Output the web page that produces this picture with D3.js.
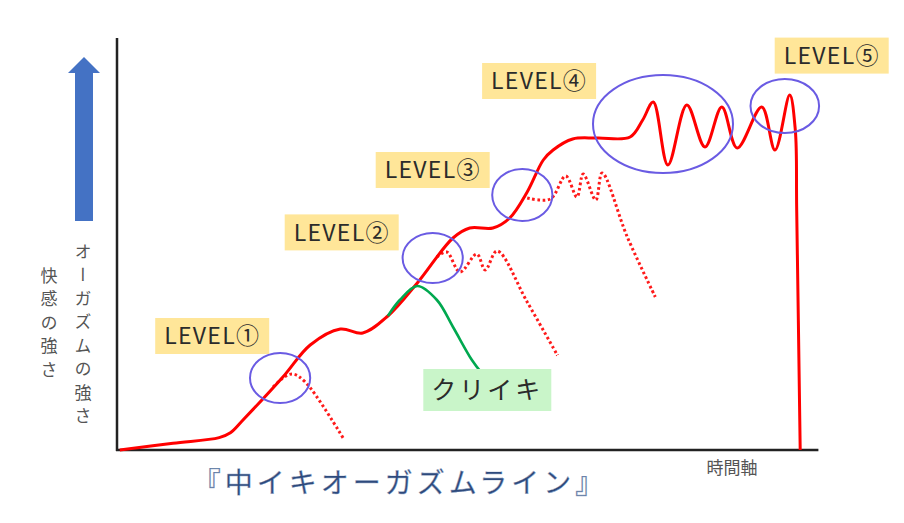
<!DOCTYPE html>
<html>
<head>
<meta charset="utf-8">
<script src="https://cdn.jsdelivr.net/npm/d3@7"></script>
<style>
  body { margin: 0; background: #fff; }
  svg { display: block; }
</style>
</head>
<body>
<div id="chart"></div>
<script>
// time axis 0..100, intensity axis 0..100

var mainT = [0.4, 8, 14.6, 16.2, 18, 23.7, 27.6, 31.9, 35.1, 38.7, 42.9, 48, 50.4, 53.7, 56.1, 58.6, 60.9, 62.3, 65.1, 68.6, 73.3, 75.1, 76.6, 78.7, 81.4, 84, 86.4, 88.6, 92.1, 94, 96.1, 96.9, 97.1, 97.6];
var mainV = [0, 1.7, 3.1, 4.3, 7.5, 18.25, 26.25, 30.25, 29.25, 33.5, 41.75, 53, 55.5, 55.5, 58, 64.5, 72.5, 75, 77.75, 78, 78.25, 82.5, 87, 71.25, 86.25, 75.75, 85.75, 75.5, 85.75, 75, 88.75, 80, 60, 0];

// dotted "could have gone" branches
var branch1T = [22.3, 23.7, 25.1, 26.9, 32.3];
var branch1V = [15.75, 18, 19, 17, 3];
var branch2T = [45.7, 47.1, 49, 51.4, 52.6, 54.3, 58.6, 62.9];
var branch2V = [48.25, 49.5, 44.5, 49, 45, 49.75, 37, 23.75];
var branch3T = [58.6, 61.9, 64.1, 65.7, 66.6, 68.4, 69.3, 72.9, 76.9];
var branch3V = [63, 62.75, 68.5, 63.25, 69, 62.5, 69.25, 53.25, 38.25];

// クリイキ curve
var clitT = [38.7, 40.4, 42.9, 45.7, 48, 50.7, 52.1];
var clitV = [33.5, 37.5, 41, 37.5, 30.75, 22.5, 19.25];

// circled zones: centre (time, intensity) and half-widths
var zoneT = [23.3, 45.1, 57.9, 78, 95.4];
var zoneV = [18, 48, 63.75, 81.5, 86];
var zoneRT = [4.3, 4.3, 4.3, 10, 4.9];
var zoneRV = [6.25, 6.25, 6.5, 12.25, 6.75];

var levelNames = ["LEVEL①", "LEVEL②", "LEVEL③", "LEVEL④", "LEVEL⑤"];
var levelT = [13.6, 32.1, 45.1, 60.3, 102.1];
var levelV = [28.5, 54.4, 70, 92.25, 98.6];

var clitLabel = "クリイキ";
var clitLabelT = 52.9, clitLabelV = 15;

var yLabels = ["オーガズムの強さ", "快感の強さ"];
var xLabel = "時間軸";
var title = "『中イキオーガズムライン』";

var width = 904, height = 523;
var font = "'Noto Sans CJK JP', 'Noto Sans', sans-serif";

var svg = d3.select("#chart").append("svg")
  .attr("width", width)
  .attr("height", height);

var x = d3.scaleLinear().domain([0, 100]).range([117, 817]);
var y = d3.scaleLinear().domain([0, 100]).range([450, 50]);

var zip = function(a, b) { return a.map(function(v, i) { return [v, b[i]]; }); };

var line = d3.line()
  .x(d => x(d[0]))
  .y(d => y(d[1]))
  .curve(d3.curveCatmullRom.alpha(0.5));

// axes
svg.append("line")
  .attr("x1", x(0)).attr("x2", x(0))
  .attr("y1", y(0) + 1).attr("y2", y(103))
  .attr("stroke", "#222").attr("stroke-width", 2.5);
svg.append("line")
  .attr("x1", x(0) - 1).attr("x2", x(100.2))
  .attr("y1", y(0)).attr("y2", y(0))
  .attr("stroke", "#222").attr("stroke-width", 2.5);

// dotted branches
[zip(branch1T, branch1V), zip(branch2T, branch2V), zip(branch3T, branch3V)].forEach(function(b) {
  svg.append("path")
    .attr("d", line(b))
    .attr("fill", "none")
    .attr("stroke", "#ff1a1a")
    .attr("stroke-width", 3)
    .attr("stroke-dasharray", "2.6,2.6");
});

// main line
svg.append("path")
  .attr("d", line(zip(mainT, mainV)))
  .attr("fill", "none")
  .attr("stroke", "#ff0000")
  .attr("stroke-width", 3)
  .attr("stroke-linejoin", "round");

// green
svg.append("path")
  .attr("d", line(zip(clitT, clitV)))
  .attr("fill", "none")
  .attr("stroke", "#00a84f")
  .attr("stroke-width", 2.6);

// circles
svg.selectAll("ellipse.zone")
  .data(zoneT)
  .enter()
  .append("ellipse")
  .attr("class", "zone")
  .attr("cx", (d, i) => x(d))
  .attr("cy", (d, i) => y(zoneV[i]))
  .attr("rx", (d, i) => x(zoneRT[i]) - x(0))
  .attr("ry", (d, i) => y(0) - y(zoneRV[i]))
  .attr("fill", "none")
  .attr("stroke", "#6a5be3")
  .attr("stroke-width", 2);

// level labels
var lv = svg.selectAll("g.level")
  .data(levelNames)
  .enter()
  .append("g")
  .attr("class", "level")
  .attr("transform", (d, i) => `translate(${x(levelT[i])}, ${y(levelV[i])})`);
lv.append("rect")
  .attr("x", -57).attr("y", -18)
  .attr("width", 114).attr("height", 36)
  .attr("fill", "#ffe699");
lv.append("text")
  .attr("text-anchor", "middle")
  .attr("dy", "0.36em")
  .style("font-family", font)
  .style("font-size", "23px")
  .style("letter-spacing", "1.3px")
  .attr("fill", "#2b2b2b")
  .text(d => d);

// クリイキ label
var cl = svg.append("g")
  .attr("transform", `translate(${x(clitLabelT)}, ${y(clitLabelV)})`);
cl.append("rect")
  .attr("x", -64).attr("y", -21)
  .attr("width", 128).attr("height", 42)
  .attr("fill", "#c9f5c9");
cl.append("text")
  .attr("text-anchor", "middle")
  .attr("dy", "0.36em")
  .style("font-family", font)
  .style("font-size", "25px")
  .style("letter-spacing", "3px")
  .attr("fill", "#2b2b2b")
  .text(clitLabel);

// blue arrow
svg.append("path")
  .attr("d", "M75,221 L75,73 L68,73 L84,57 L100,73 L93,73 L93,221 Z")
  .attr("fill", "#4472c4");

// vertical labels
svg.selectAll("text.ylab")
  .data(yLabels)
  .enter()
  .append("text")
  .attr("class", "ylab")
  .attr("x", (d, i) => i === 0 ? 83 : 49)
  .attr("y", (d, i) => i === 0 ? 243 : 267)
  .style("writing-mode", "vertical-rl")
  .style("font-family", font)
  .style("font-size", "17px")
  .style("letter-spacing", "6.5px")
  .attr("fill", "#555")
  .text(d => d);

// x label
svg.append("text")
  .attr("x", 732).attr("y", 474)
  .attr("text-anchor", "middle")
  .style("font-family", font)
  .style("font-size", "17px")
  .attr("fill", "#555")
  .text(xLabel);

// title
svg.append("text")
  .attr("x", 400).attr("y", 493)
  .attr("text-anchor", "middle")
  .style("font-family", font)
  .style("font-size", "28px")
  .style("letter-spacing", "4px")
  .attr("fill", "#2e4a7c")
  .attr("stroke", "#9fb0cc")
  .attr("stroke-width", 0.4)
  .text(title);
</script>
</body>
</html>
